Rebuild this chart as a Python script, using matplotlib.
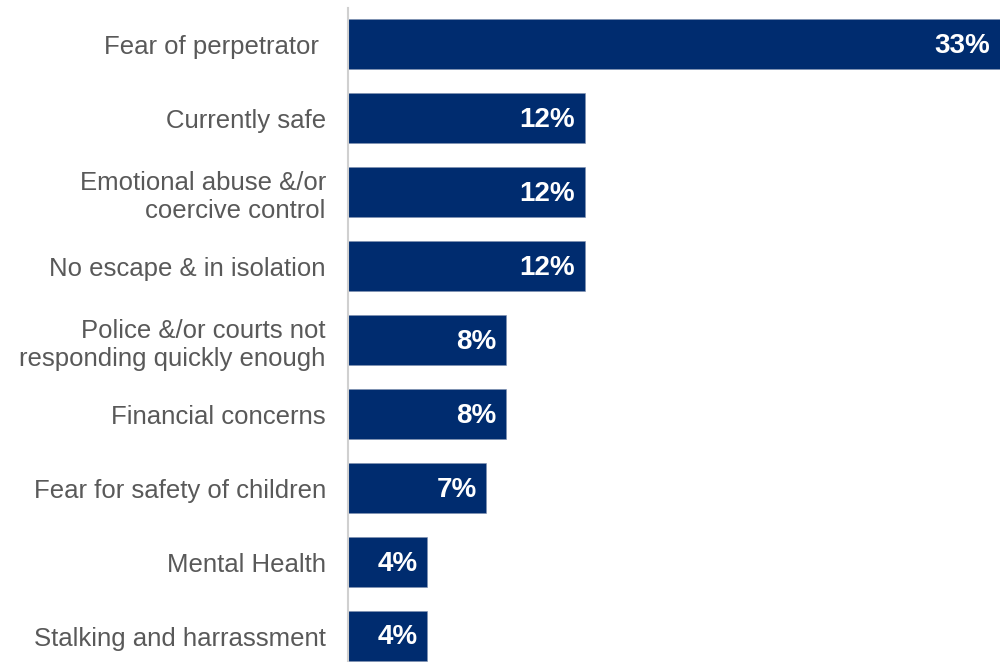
import matplotlib
matplotlib.use("Agg")
import matplotlib.pyplot as plt

# Reasons given, top to bottom, with share of respondents (%)
reasons = [
    "Fear of perpetrator ",
    "Currently safe",
    "Emotional abuse &/or\ncoercive control",
    "No escape & in isolation",
    "Police &/or courts not\nresponding quickly enough",
    "Financial concerns",
    "Fear for safety of children",
    "Mental Health",
    "Stalking and harrassment",
]
shares = [33, 12, 12, 12, 8, 8, 7, 4, 4]

BAR_COLOR = "#002C6F"
LABEL_COLOR = "#595959"

plt.rcParams["font.family"] = ["Liberation Sans", "DejaVu Sans"]

fig = plt.figure(figsize=(10.01, 6.62), dpi=100)
ax = fig.add_axes([348 / 1001, 0, 652 / 1001, 654 / 662])

pos = list(range(len(reasons)))
ax.barh(pos, shares, height=0.68, color=BAR_COLOR, edgecolor="#8090B0", linewidth=0.4)

for y, v in zip(pos, shares):
    ax.annotate(f"{v}%", xy=(v, y), xytext=(-7, -1), textcoords="offset points",
                ha="right", va="center", color="white",
                fontsize=20, fontweight="bold")

ax.set_xlim(0, 33)
ax.set_ylim(8.35, -0.49)
ax.set_yticks(pos)
ax.set_yticklabels(reasons, fontsize=18.5, color=LABEL_COLOR, linespacing=1.25)
ax.tick_params(axis="y", length=0, pad=16)
ax.set_xticks([])

for side in ("top", "right", "bottom"):
    ax.spines[side].set_visible(False)
ax.spines["left"].set_color("#D0D0D0")
ax.spines["left"].set_linewidth(1.5)

fig.savefig("out.png", dpi=100)
